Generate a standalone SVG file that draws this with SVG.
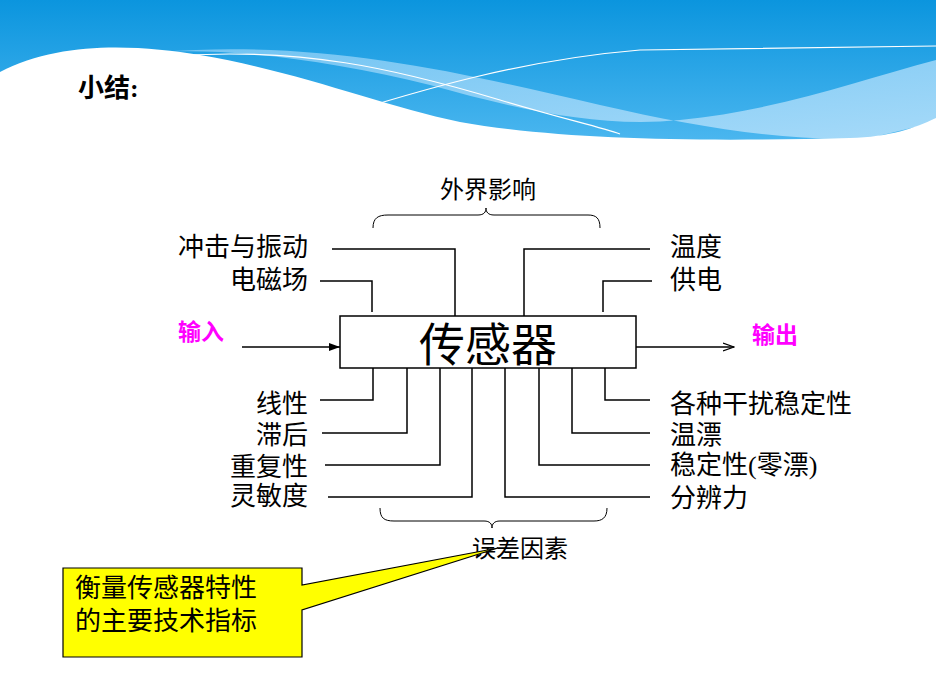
<svg xmlns="http://www.w3.org/2000/svg" width="936" height="690" viewBox="0 0 936 690">
<style>
.t{font-family:"Liberation Serif","Noto Sans CJK SC",serif;font-size:26px;fill:#000}
.m{font-family:"Liberation Sans","Noto Sans CJK SC",sans-serif;font-size:23px;font-weight:bold;fill:#ff00ff}
.l{fill:none;stroke:#000;stroke-width:1.5}
</style>
<defs>
<linearGradient id="bg" x1="0" y1="0" x2="0" y2="1"><stop offset="0" stop-color="#0b95de"/><stop offset="1" stop-color="#4ab6ef"/></linearGradient>
<linearGradient id="lb" x1="0" y1="0" x2="1" y2="1"><stop offset="0" stop-color="#7cc8f4"/><stop offset="1" stop-color="#b0defa"/></linearGradient>
<marker id="ar" markerWidth="12" markerHeight="10" refX="11" refY="5" orient="auto" markerUnits="userSpaceOnUse"><path d="M0,1 L11,5 L0,9" fill="none" stroke="#000" stroke-width="1.2"/></marker>
<marker id="af" markerWidth="12" markerHeight="10" refX="11" refY="5" orient="auto" markerUnits="userSpaceOnUse"><path d="M0,1 L11,5 L0,9 Z" fill="#000"/></marker>
</defs>
<g id="header">
<rect x="0" y="0" width="936" height="140" fill="url(#bg)"/>
<path d="M160,52 C320,40 450,70 600,105 C700,128 790,142 870,138 L936,122 L936,60 C860,80 780,110 680,120 C600,128 520,110 430,85 C330,60 230,48 160,52 Z" fill="url(#lb)" opacity="0.9"/>
<path d="M0,72 C60,40 140,45 200,55 C300,72 380,105 460,122 C560,140 700,142 850,138 C890,137 915,128 936,118 L936,690 L0,690 Z" fill="#fff"/>
<path d="M160,57 C300,45 400,70 500,100 C560,118 600,127 620,134" fill="none" stroke="#fff" stroke-width="1.2"/>
<path d="M325,120 C420,90 520,60 640,50 L936,46" fill="none" stroke="#fff" stroke-width="1.2"/>
<text x="78" y="97" style="font-family:'Liberation Serif','Noto Sans CJK SC',serif;font-size:26px;font-weight:bold">小结:</text>
</g>
<g id="connectors">
<path class="l" d="M332,249 H455 V316"/>
<path class="l" d="M320,281 H372 V312"/>
<path class="l" d="M650,249 H524 V316"/>
<path class="l" d="M652,281 H603 V312"/>
<path class="l" d="M373,368 V400 H320"/>
<path class="l" d="M407,368 V433 H322"/>
<path class="l" d="M440,368 V465 H325"/>
<path class="l" d="M472,368 V497 H328"/>
<path class="l" d="M505,368 V497 H650"/>
<path class="l" d="M539,368 V465 H650"/>
<path class="l" d="M572,368 V433 H650"/>
<path class="l" d="M605,368 V400 H650"/>
<path class="l" d="M242,347 H340" marker-end="url(#af)"/>
<path class="l" d="M636,347 H734" marker-end="url(#ar)"/>
<path fill="none" stroke="#000" stroke-width="1" d="M373,228 C373,218 378,215 388,215 H478 C484,215 486,212 486,208 C486,212 488,215 494,215 H588 C596,215 600,218 600,228"/>
<path fill="none" stroke="#000" stroke-width="1" d="M380,508 C380,518 384,521 394,521 H484 C490,521 492,524 492,528 C492,524 494,521 500,521 H594 C602,521 607,518 607,508"/>
</g>
<g id="sensor">
<rect x="340" y="316" width="296" height="52" fill="#fff" stroke="#000" stroke-width="1.5"/>
<text x="488" y="361" text-anchor="middle" style="font-family:'Liberation Serif','Noto Sans CJK SC',serif;font-size:46px">传感器</text>
</g>
<g id="labels">
<text class="t" x="440" y="198" style="font-size:24px">外界影响</text>
<text class="t" x="308" y="256" text-anchor="end">冲击与振动</text>
<text class="t" x="308" y="289" text-anchor="end">电磁场</text>
<text class="t" x="670" y="256">温度</text>
<text class="t" x="670" y="289">供电</text>
<text class="m" x="178" y="340">输入</text>
<text class="m" x="752" y="343">输出</text>
<text class="t" x="308" y="413" text-anchor="end">线性</text>
<text class="t" x="308" y="444" text-anchor="end">滞后</text>
<text class="t" x="308" y="476" text-anchor="end">重复性</text>
<text class="t" x="308" y="505" text-anchor="end">灵敏度</text>
<text class="t" x="670" y="413">各种干扰稳定性</text>
<text class="t" x="670" y="444">温漂</text>
<text class="t" x="670" y="474">稳定性(零漂)</text>
<text class="t" x="670" y="507">分辨力</text>
<text class="t" x="472" y="557" style="font-size:24px">误差因素</text>
</g>
<g id="callout">
<path d="M63,568 H302 V585 L498,548 L302,610 V657 H63 Z" fill="#ffff00" stroke="#000" stroke-width="1.2"/>
<text class="t" x="75" y="597">衡量传感器特性</text>
<text class="t" x="75" y="630">的主要技术指标</text>
</g>
</svg>
